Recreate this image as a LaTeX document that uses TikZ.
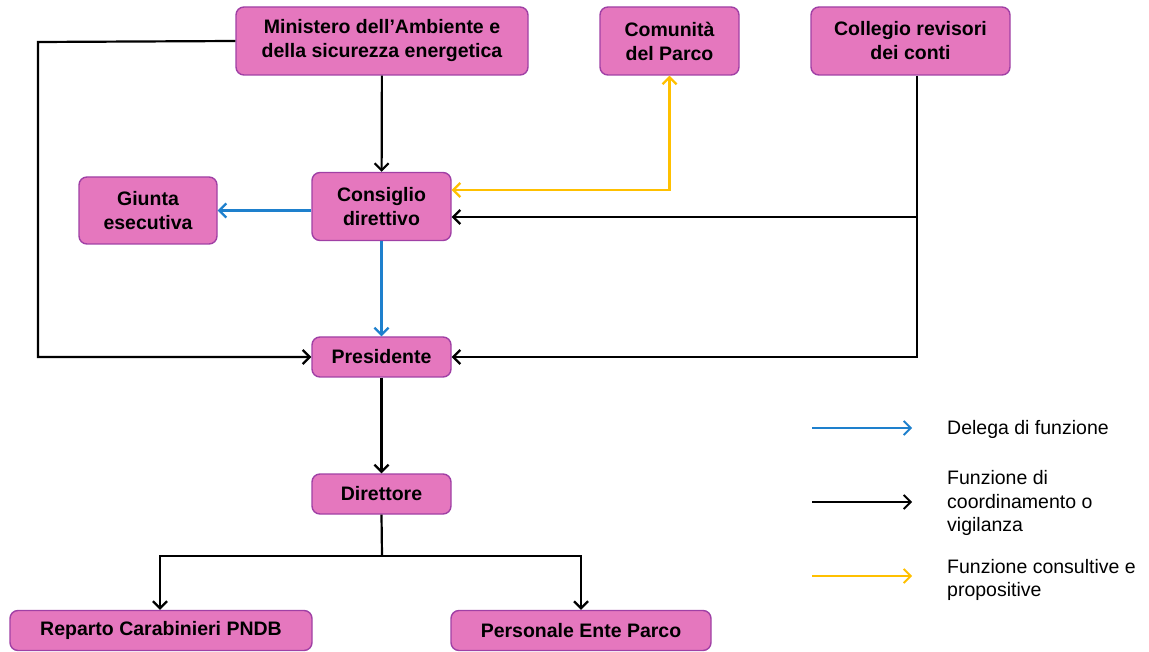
\documentclass[tikz,border=0pt]{standalone}
\usepackage{fontspec}
\setmainfont{Liberation Sans}
\usepackage{xcolor}
\definecolor{boxpink}{RGB}{229,119,190}
\definecolor{boxedge}{RGB}{160,64,165}
\definecolor{delblue}{RGB}{30,128,205}
\definecolor{conyellow}{RGB}{255,192,0}
\usetikzlibrary{arrows.meta, positioning}

\begin{document}
\begin{tikzpicture}[
  x=1pt, y=-1pt,
  box/.style={draw=boxedge, line width=1.4pt, rounded corners=8pt, fill=boxpink,
              minimum width=139pt, minimum height=68pt, align=center,
              font=\fontsize{19.5}{24}\selectfont\bfseries, inner sep=2pt},
  lowbox/.style={box, minimum height=40pt},
  legtxt/.style={anchor=west, align=left, font=\fontsize{19.5}{23.5}\selectfont, inner sep=0pt},
  arr/.style={-{Straight Barb[length=7pt, width=14pt]}, line width=2.2pt},
  both/.style={{Straight Barb[length=7pt, width=14pt]}-{Straight Barb[length=7pt, width=14pt]}, line width=2.2pt}
]
\useasboundingbox (0,0) rectangle (1149,652);

% boxes
\node[box, minimum width=292pt] (min) at (382,41) {Ministero dell’Ambiente e\\della sicurezza energetica};
\node[box] (com) at (669.5,41) {Comunità\\del Parco};
\node[box, minimum width=199pt] (col) at (910.5,41) {Collegio revisori\\dei conti};
\node[box] (cons) at (381.5,206.5) {Consiglio\\direttivo};
\node[box, minimum width=138pt, minimum height=67pt] (giu) at (148,210.5) {Giunta\\esecutiva};
\node[lowbox] (pres) at (381.5,357) {Presidente};
\node[lowbox] (dir) at (381.5,494) {Direttore};
\node[lowbox, minimum width=302pt] (rep) at (161,630.5) {Reparto Carabinieri PNDB};
\node[lowbox, minimum width=260pt] (pers) at (581,630.5) {Personale Ente Parco};

% connectors
\coordinate (lk) at (38,42);
\coordinate (cj) at (917,217);
\coordinate (br) at (382,556);

\draw[arr] (min) -- (cons);
\draw[arr] (min.west) -- (lk) |- (pres.west);
\draw[both, conyellow] ([yshift=16.5pt]cons.east) -| (com.south);
\draw[arr] ([xshift=6.5pt]col.south) |- (pres.east);
\draw[arr] (cj) -- ([yshift=-10.5pt]cons.east);
\draw[arr, delblue] (cons.west |- giu.east) -- (giu.east);
\draw[arr, delblue] (cons) -- (pres);
\draw[arr] (pres) -- (dir);
\draw[line width=2.2pt] (dir.south) -- (br);
\draw[arr] (br) -| ([xshift=-1pt]rep.north);
\draw[arr] (br) -| (pers.north);

% legend
\coordinate (l1a) at (812,428); \coordinate (l1b) at (912,428);
\coordinate (l2a) at (812,502); \coordinate (l2b) at (912,502);
\coordinate (l3a) at (812,576); \coordinate (l3b) at (912,576);
\draw[arr, delblue, line width=1.8pt] (l1a) -- (l1b);
\draw[arr, line width=1.8pt] (l2a) -- (l2b);
\draw[arr, conyellow, line width=1.8pt] (l3a) -- (l3b);
\node[legtxt] (t1) at (947,429) {Delega di funzione};
\node[legtxt] (t2) at (947,503) {Funzione di\\coordinamento o\\vigilanza};
\node[legtxt] (t3) at (947,580) {Funzione consultive e\\propositive};
\end{tikzpicture}
\end{document}
